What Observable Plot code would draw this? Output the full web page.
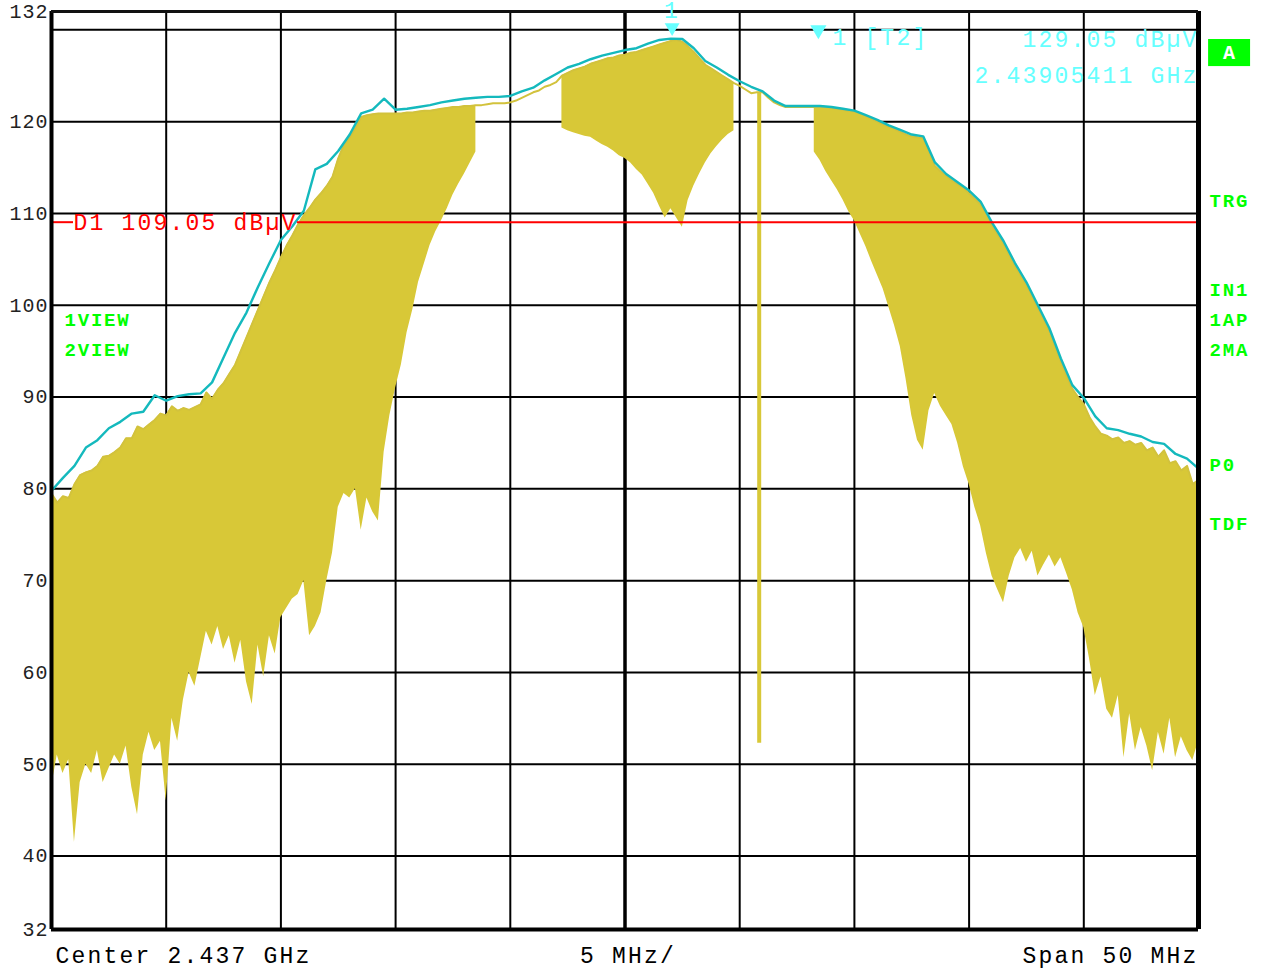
<!DOCTYPE html>
<html><head><meta charset="utf-8">
<script src="https://cdn.jsdelivr.net/npm/d3@7"></script>
<script src="https://cdn.jsdelivr.net/npm/@observablehq/plot@0.6"></script>
<style>body{margin:0;background:#fff}#chart svg{display:block}</style>
</head><body><div id="chart"></div>
<script>
// Sweep: Center 2.437 GHz, Span 50 MHz (values in MHz)
const sweepStart = 2412, sweepStop = 2462;
const maxHoldStep = 0.5;   // trace 2 (max hold, cyan)
const clearStep = 0.25;    // trace 1 (clear/write, yellow)

// Trace 2 (max hold), dBuV every 0.5 MHz
const maxHoldDb = [79.8,81.2,82.5,84.5,85.3,86.6,87.3,88.2,88.4,90.2,
 89.6,90.1,90.3,90.4,91.6,94.3,97.0,99.2,102.0,104.6,
 107.1,108.6,110.3,114.8,115.4,116.8,118.6,120.9,121.3,122.5,
 121.3,121.4,121.6,121.8,122.1,122.3,122.5,122.6,122.7,122.7,
 122.8,123.3,123.7,124.5,125.2,125.9,126.3,126.8,127.2,127.5,
 127.8,128.0,128.5,128.9,129.05,129.0,128.0,126.6,125.9,125.1,
 124.4,123.8,123.3,122.3,121.7,121.7,121.7,121.7,121.6,121.4,
 121.2,120.7,120.2,119.6,119.1,118.6,118.4,115.6,114.3,113.4,
 112.5,111.3,109.0,107.0,104.6,102.5,100.0,97.5,94.2,91.3,
 89.9,87.9,86.6,86.4,86.0,85.7,85.1,84.9,83.8,83.3,
 82.2];

// Trace 1 (clear write), upper envelope, dBuV every 0.25 MHz
const clearTopDb = [79.5,78.5,79.2,79.0,80.5,81.5,81.8,82.0,82.5,83.5,
 83.6,84.0,84.5,85.5,85.5,86.8,86.5,87.0,87.5,88.2,
 88.0,89.0,88.5,88.8,88.6,88.9,89.2,90.5,89.8,90.8,
 91.5,92.5,93.5,95.0,96.5,98.0,99.5,101.0,102.5,103.8,
 105.2,106.5,107.6,108.8,109.8,110.6,111.5,112.2,113.0,114.0,
 116.0,117.5,118.3,119.3,120.5,120.7,120.8,120.9,120.9,120.9,
 120.9,120.9,121.0,121.0,121.1,121.2,121.2,121.3,121.4,121.5,
 121.6,121.6,121.7,121.7,121.8,121.8,121.9,122.0,122.0,122.0,
 122.1,122.3,122.6,122.9,123.2,123.4,123.8,124.0,124.3,125.0,
 125.3,125.6,125.8,126.0,126.3,126.5,126.7,126.9,127.0,127.2,
 127.3,127.5,127.6,127.8,128.0,128.2,128.4,128.6,128.8,128.9,
 128.7,128.2,127.6,126.9,126.2,125.8,125.4,125.0,124.6,124.2,
 123.9,123.5,123.1,123.2,123.2,122.6,122.1,121.8,121.6,121.6,
 121.6,121.6,121.6,121.6,121.6,121.6,121.5,121.4,121.3,121.2,
 121.1,120.9,120.6,120.3,120.0,119.7,119.4,119.2,118.9,118.6,
 118.4,118.3,118.2,116.8,115.2,114.6,114.1,113.6,113.2,112.8,
 112.2,111.6,111.0,110.0,108.7,107.7,106.7,105.5,104.3,103.3,
 102.2,101.0,99.7,98.5,97.2,95.5,93.9,92.3,90.9,90.0,
 89.2,87.8,86.8,86.0,85.8,85.4,85.6,85.0,85.2,84.8,
 85.0,84.2,84.5,83.5,84.2,82.8,83.0,82.0,82.5,80.5,
 81.0];

// Trace 1, lowest spike tips (null = no spikes, trace is a plain line)
const clearLowDb = [47.5,51,49,50.5,41.5,48,50,49,51.5,48,
 49.5,51,50,52,47.5,44.5,51,53.5,51.5,52.5,
 46,55,52.5,57,60,58.5,61.5,64.5,63,65,
 62.5,64,61,63.5,59,56.5,63,59.5,64,62,
 66,67,68,68.5,70,64,65,66.5,70,73,
 78,79.5,79,80,75.5,79,77.5,76.5,84,88,
 91,93.5,97,99.5,102.5,104.5,106.5,108,109.2,110.5,
 112,113.2,114.3,115.5,116.7,null,null,null,null,null,
 null,null,null,null,null,null,null,null,null,119.3,
 119.0,118.8,118.6,118.4,118.3,117.9,117.5,117.2,116.8,116.3,
 116.0,115.5,114.8,114.2,113.2,112.2,110.8,109.5,110.5,109.5,
 108.5,111.4,113.0,114.3,115.5,116.5,117.3,118.0,118.6,119.0,
 null,null,null,null,null,null,null,null,null,null,
 null,null,null,116.7,115.8,114.6,113.6,112.6,111.5,110.2,
 109.2,107.8,106.4,104.8,103.3,101.8,99.8,97.8,95.5,92.0,
 88.0,85.3,84.2,88.5,90.4,89.0,88.0,87.0,85.0,82.4,
 80.5,78.0,76.0,73.0,70.5,69.0,67.6,70.5,72.5,73.5,
 72.0,73.2,70.5,71.7,72.8,71.5,72.5,70.8,69.0,66.5,
 64.9,61.5,57.5,59.5,56.0,55.0,57.5,50.7,55.5,51.5,
 54.0,52.0,49.3,53.5,51.1,55.0,50.7,53.0,51.5,50.4,
 52.5];

// Single deep drop-out of trace 1
const dropFreq = [2442.85];
const dropTopDb = [123.2];
const dropLowDb = [52.3];

// Axis / grid
const yTickLabels = [132,120,110,100,90,80,70,60,50,40,32];
const yGrid = [40,50,60,70,80,90,100,110,120,130];
const xGrid = [2417,2422,2427,2432,2442,2447,2452,2457];
const xCenter = 2437;

// Display line D1 and marker 1
const displayLine = 109.05;
const displayLineLabel = "D1 109.05 dBµV";
const displayLineGaps = [[2412, 2412.96], [2422.72, 2462]];
const markerFreq = 2439.05411, markerDb = 129.05;
const markerLines = ["129.05 dBµV", "2.43905411 GHz"];
const markerLinesY = [128.95, 124.97];

const sideLabels = ["TRG","IN1","1AP","2MA","P0","TDF"];
const sideLabelsY = [111.41,101.72,98.45,95.18,82.65,76.23];
const viewLabels = ["1VIEW","2VIEW"];
const viewLabelsY = [98.45,95.18];
const footer = {left: "Center 2.437 GHz", mid: "5 MHz/", right: "Span 50 MHz"};

const YEL = "#d8c837", YELLINE = "#d2c23c", CYAN = "#14b9bd", MCYAN = "#66ffff", GREEN = "#00ff00", RED = "#ff0000";

const maxHold = maxHoldDb.map((v, i) => ({f: sweepStart + i * maxHoldStep, v}));
const clear = clearTopDb.map((t, i) => ({f: sweepStart + i * clearStep, top: t, low: clearLowDb[i]}));
const drops = dropFreq.map((f, i) => ({f, top: dropTopDb[i], low: dropLowDb[i]}));
const segs = displayLineGaps.map(([a, b]) => ({a, b}));

const FONT = "'Liberation Mono', 'DejaVu Sans Mono', monospace";

const chart = Plot.plot({
  width: 1265, height: 972,
  marginLeft: 51, marginRight: 67, marginTop: 11, marginBottom: 43,
  x: {domain: [sweepStart, sweepStop], axis: null},
  y: {domain: [32, 132], axis: null},
  style: {fontFamily: FONT, background: "#fff", overflow: "visible"},
  marks: [
    Plot.ruleY(yGrid, {y: d => d, stroke: "#000", strokeWidth: 2}),
    Plot.ruleX(xGrid, {x: d => d, stroke: "#000", strokeWidth: 2}),
    Plot.ruleX([xCenter], {x: d => d, stroke: "#000", strokeWidth: 3.5}),
    Plot.areaY(clear, {x: "f", y1: "low", y2: "top", fill: YEL, curve: "linear"}),
    Plot.ruleX(drops, {x: "f", y1: "low", y2: "top", stroke: YEL, strokeWidth: 4}),
    Plot.lineY(clear, {x: "f", y: "top", stroke: YELLINE, strokeWidth: 2}),
    Plot.lineY(maxHold, {x: "f", y: "v", stroke: CYAN, strokeWidth: 2.4}),
    Plot.ruleY(segs, {y: displayLine, x1: "a", x2: "b", stroke: RED, strokeWidth: 2}),
    Plot.text([displayLineLabel], {x: sweepStart, y: displayLine, text: d => d, dx: 22, textAnchor: "start", fill: RED, fontSize: 23}),
    // frame
    Plot.ruleX([sweepStart], {x: d => d, stroke: "#000", strokeWidth: 4}),
    Plot.ruleX([sweepStop], {x: d => d, stroke: "#000", strokeWidth: 5}),
    Plot.ruleY([132], {y: d => d, stroke: "#111", strokeWidth: 3}),
    Plot.ruleY([32], {y: d => d, stroke: "#000", strokeWidth: 4}),
    // y labels
    Plot.text(yTickLabels, {x: sweepStart, y: d => d, text: d => String(d), textAnchor: "end", dx: -3, fill: "#222", fontSize: 20}),
    // marker 1
    Plot.dot([markerFreq], {x: d => d, y: 130.26, symbol: "triangle", rotate: 180, r: 5.5, fill: MCYAN, stroke: "none"}),
    Plot.text([markerFreq], {x: d => d, y: 132.1, text: () => "1", fill: MCYAN, fontSize: 23}),
    Plot.dot([2445.43], {x: d => d, y: 130.0, symbol: "triangle", rotate: 180, r: 6, fill: MCYAN, stroke: "none"}),
    Plot.text(["1 [T2]"], {x: 2446.05, y: 129.1, text: d => d, textAnchor: "start", fill: MCYAN, fontSize: 23}),
    Plot.text(markerLines, {x: sweepStop, y: (d, i) => markerLinesY[i], text: d => d, textAnchor: "end", dx: 0, fill: MCYAN, fontSize: 23}),
    // status labels
    Plot.rect([0], {x1: 2462.44, x2: 2464.27, y1: 126.0, y2: 128.95, fill: GREEN}),
    Plot.text(["A"], {x: 2463.35, y: 127.48, text: d => d, fill: "#fff", fontWeight: "bold", fontSize: 20}),
    Plot.text(sideLabels, {x: sweepStop, y: (d, i) => sideLabelsY[i], text: d => d, dx: 11, textAnchor: "start", fill: GREEN, fontWeight: "bold", fontSize: 19}),
    Plot.text(viewLabels, {x: sweepStart, y: (d, i) => viewLabelsY[i], text: d => d, dx: 13, textAnchor: "start", fill: GREEN, fontWeight: "bold", fontSize: 19}),
    // footer
    Plot.text([footer.left], {frameAnchor: "bottom-left", text: d => d, textAnchor: "start", dx: 4, dy: 33, fill: "#000", fontSize: 23}),
    Plot.text([footer.mid], {frameAnchor: "bottom", text: d => d, dx: 3, dy: 33, fill: "#000", fontSize: 23}),
    Plot.text([footer.right], {frameAnchor: "bottom-right", text: d => d, textAnchor: "end", dx: 0, dy: 33, fill: "#000", fontSize: 23})
  ]
});

chart.querySelectorAll("g[font-size]").forEach(g => {
  const fs = +g.getAttribute("font-size");
  const ls = fs === 23 ? 2.2 : fs === 19 ? 1.8 : 1;
  g.setAttribute("letter-spacing", ls);
});
document.getElementById("chart").appendChild(chart);
</script>
</body></html>
